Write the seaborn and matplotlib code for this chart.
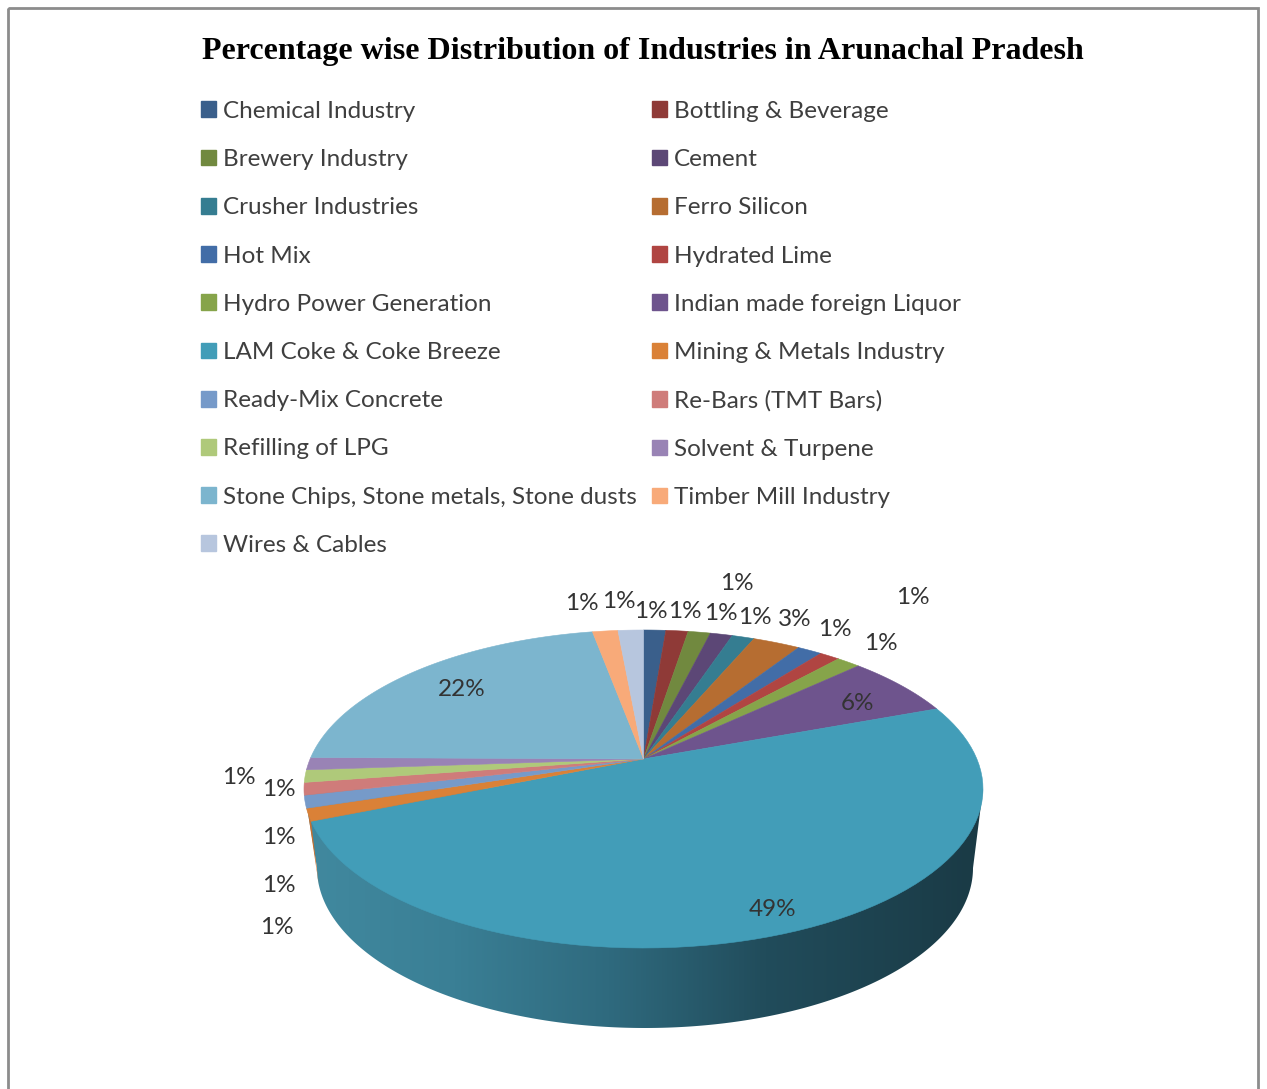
import numpy as np
import matplotlib
matplotlib.use("Agg")
import matplotlib.pyplot as plt
from matplotlib.colors import LinearSegmentedColormap
from matplotlib.patches import Patch, Polygon, Rectangle
import seaborn as sns

categories = ["Chemical Industry", "Bottling & Beverage", "Brewery Industry", "Cement",
              "Crusher Industries", "Ferro Silicon", "Hot Mix", "Hydrated Lime",
              "Hydro Power Generation", "Indian made foreign Liquor", "LAM Coke & Coke Breeze",
              "Mining & Metals Industry", "Ready-Mix Concrete", "Re-Bars (TMT Bars)",
              "Refilling of LPG", "Solvent & Turpene", "Stone Chips, Stone metals, Stone dusts",
              "Timber Mill Industry", "Wires & Cables"]
values = [1.27, 1.27, 1.27, 1.27, 1.27, 2.7, 1.4, 1.15, 1.35, 6.35, 49.4,
          1.26, 1.26, 1.26, 1.26, 1.26, 21.9, 1.45, 1.45]
colors = ["#3A5F8B", "#8F3A37", "#71893F", "#5C4776", "#357D91", "#B66D31",
          "#426DA7", "#B04542", "#86A44A", "#6E548D", "#429DB8", "#DA8137",
          "#769AC9", "#CF7C7A", "#AFC97A", "#9983B5", "#7CB5CE", "#F8AA79", "#B7C6DE"]
label_x = [651, 685, 737, 721, 755, 795, 835, 913, 881, 857, 773, 277, 279, 279, 279, 239, 462, 582, 619]
label_y = [611, 611, 584, 614, 618, 619, 629, 598, 644, 703, 909, 927, 885, 838, 790, 778, 690, 604, 601]
title = "Percentage wise Distribution of Industries in Arunachal Pradesh"
wall_stops = [(0.0, "#41899F"), (0.22, "#3A7F95"), (0.45, "#2F6A7E"), (0.68, "#214C5B"), (1.0, "#1A3A45")]

sns.set_theme(style="white")
plt.rcParams["font.family"] = ["Lato", "DejaVu Sans"]
palette = sns.color_palette(colors)

W, H = 1267, 1089
fig = plt.figure(figsize=(W / 100, H / 100), dpi=100, facecolor="white")
ax = fig.add_axes([0, 0, 1, 1])
ax.axis("off")

# disc geometry: projective view of a circle
CX, CY, RX, RY, K = 643.5, 789.0, 339.5, 159.0, 0.189
BX, BY, BRX, BRY = 645.0, 868.0, 328.0, 160.0


def project(theta):
    """theta is clockwise from 12 o'clock, radians; returns pixel coordinates on the rim."""
    x, y = np.sin(theta), np.cos(theta)
    d = 1 + K * y
    xp = x * np.sqrt(1 - K ** 2) / d
    yp = (y + K) / d
    return CX + RX * xp, CY - RY * yp


# side wall
phi = np.linspace(0, np.pi, 300)
wall_x = np.r_[BX - BRX * np.cos(phi), CX + RX, CX - RX]
wall_y = np.r_[BY + BRY * np.sin(phi), CY, CY]
cmap = LinearSegmentedColormap.from_list("wall", wall_stops)
grad = np.linspace(0, 1, 512).reshape(1, -1)
im = ax.imshow(grad, cmap=cmap, extent=(wall_x.min(), wall_x.max(), wall_y.max(), wall_y.min()),
               aspect="auto", zorder=1)
im.set_clip_path(Polygon(np.c_[wall_x, wall_y], transform=ax.transData))

# slices on the top face
fracs = np.array(values) / np.sum(values)
edges = np.r_[0, np.cumsum(fracs)] * 2 * np.pi
apex = (CX, CY - RY * K)
for i, col in enumerate(palette):
    t = np.linspace(edges[i], edges[i + 1], 80)
    rx, ry = project(t)
    ax.fill(np.r_[apex[0], rx], np.r_[apex[1], ry], color=col, lw=0.4, zorder=3)

# thin visible strip of the Mining slice wall at the far left
t = np.linspace(edges[11], edges[12], 20)
rx, ry = project(t)
ang = np.arcsin(17 / BRY)
ax.fill(np.r_[rx[:12], BX - BRX * np.cos(ang)], np.r_[ry[:12], BY + BRY * np.sin(ang)],
        color="#C9702F", lw=0, zorder=2)

# percentage labels
for v, lx, ly in zip(values, label_x, label_y):
    ax.text(lx, ly, f"{v:.0f}%", ha="center", va="center", fontsize=17.5, color="#333333", zorder=5)

# title
ax.text(642.5, 52, title, ha="center", va="center", fontsize=23, fontweight="bold",
        family="Liberation Serif", color="black", zorder=5)

# legend laid out by rows, as columns of odd and even entries
handles = [Patch(facecolor=c, edgecolor=c, label=n) for c, n in zip(palette, categories)]
order = list(range(0, 19, 2)) + list(range(1, 19, 2))
leg = ax.legend([handles[i] for i in order], [categories[i] for i in order], ncols=2,
                loc="upper left", bbox_to_anchor=(196, 96), bbox_transform=ax.transData,
                frameon=False, fontsize=17.5, labelcolor="#3F3F3F",
                handlelength=0.62, handleheight=0.62, handletextpad=0.3,
                columnspacing=0.6, labelspacing=1.12, borderpad=0.2, borderaxespad=0)
leg.set_zorder(5)

# chart frame, running off the bottom of the picture
ax.add_patch(Rectangle((7.5, 7.5), 1250, 1200, fill=False, ec="#8C8C8C", lw=2, zorder=0))

ax.set_xlim(0, W)
ax.set_ylim(H, 0)
fig.savefig("out.png", dpi=100, facecolor="white")
